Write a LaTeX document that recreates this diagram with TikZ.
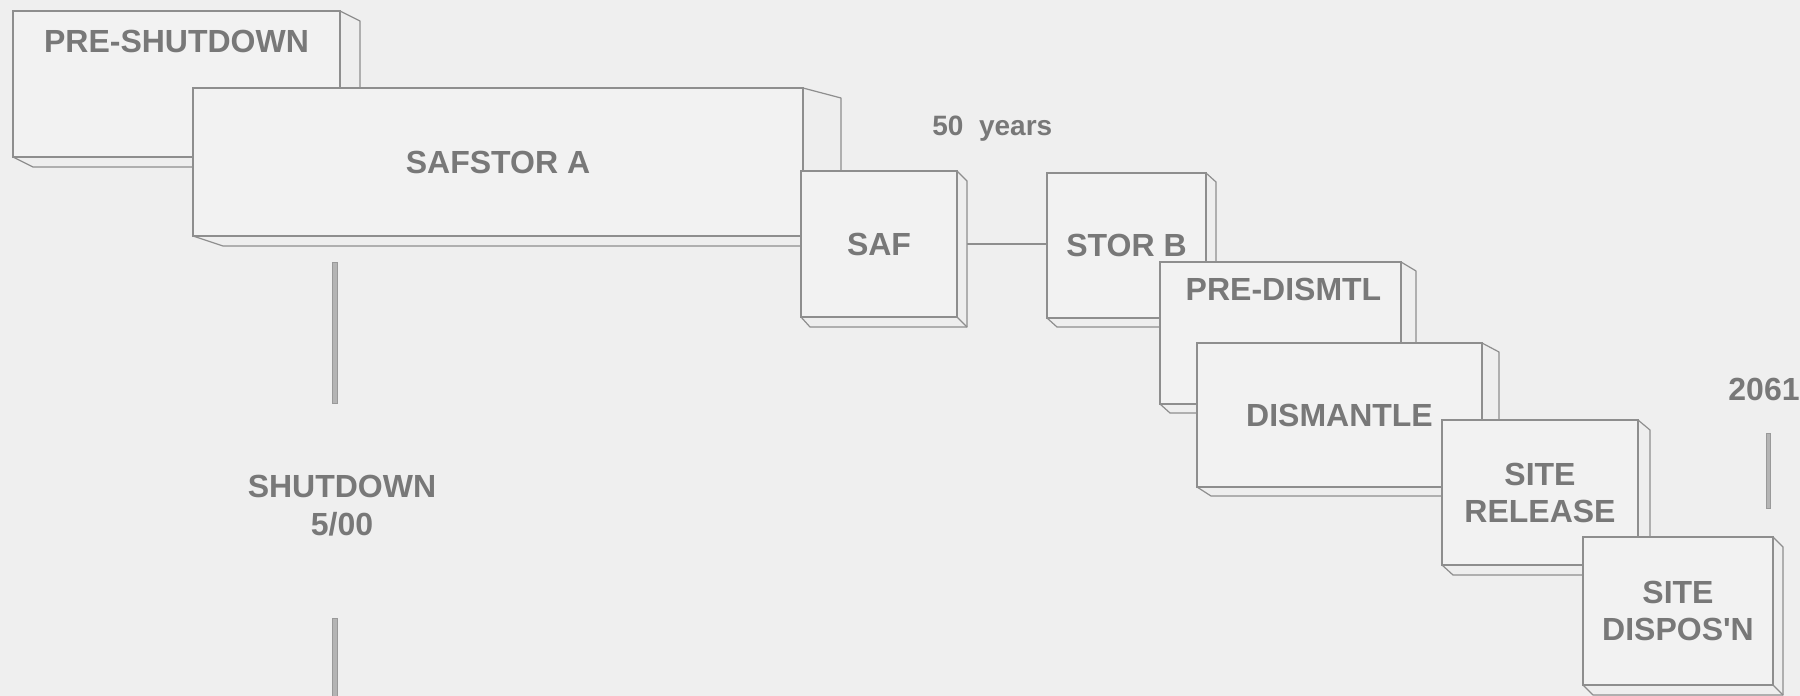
\documentclass[tikz,border=0pt]{standalone}
\usepackage{fontspec}
\setmainfont{Liberation Sans}
\usetikzlibrary{calc}
\definecolor{bgc}{HTML}{EFEFEF}
\definecolor{facec}{HTML}{F2F2F2}
\definecolor{sidec}{HTML}{EEEEEE}
\definecolor{linec}{HTML}{8E8E8E}
\definecolor{txtc}{HTML}{787878}
\definecolor{barfill}{HTML}{B4B4B4}
\pgfdeclarelayer{background}
\pgfsetlayers{background,main}
% #1 name, #2 x1, #3 y1, #4 x2, #5 y2, #6 right depth, #7 bottom depth, #8 left chamfer, #9 text
\newcommand\solidbox[9]{%
  \filldraw[boxside] (#4,#3) -- (#4+#6,#3+#7) -- (#4+#6,#5+#7) -- (#2+#8,#5+#7) -- (#2,#5) -- cycle;
  \draw[boxside] (#4,#5) -- (#4+#6,#5+#7);
  \node[boxface, minimum width={0.5pt*(#4-#2)}, minimum height={0.5pt*(#5-#3)}] (#1) at ({(#2+#4)/2},{(#3+#5)/2}) {#9};
}
\begin{document}
\begin{tikzpicture}[x=0.5pt,y=-0.5pt,
  boxside/.style={fill=sidec, draw=linec, line width=0.6pt, line join=round},
  boxface/.style={rectangle, fill=facec, draw=linec, line width=0.6pt, inner sep=0pt,
    text=txtc, align=center, font=\fontsize{16}{18.5}\selectfont\bfseries},
  lbl/.style={text=txtc, align=center, inner sep=0pt, font=\fontsize{16}{19}\selectfont\bfseries},
  conn/.style={draw=linec, line width=0.6pt},
  bar/.style={fill=barfill, draw=linec!90, line width=0.5pt}]
\useasboundingbox (0,0) rectangle (1800,696);
\begin{pgfonlayer}{background}
  \fill[bgc] (0,0) rectangle (1800,696);
\end{pgfonlayer}

\solidbox{preshut}{13}{11}{340}{157}{20}{10}{20}{}
\solidbox{safa}{193}{88}{803}{236}{38}{10}{30}{SAFSTOR A}
\solidbox{saf}{801}{171}{957}{317}{10}{10}{9}{SAF}
\solidbox{storb}{1047}{173}{1206}{318}{10}{9}{10}{STOR B}
\solidbox{predis}{1160}{262}{1401}{404}{15}{9}{10}{}
\solidbox{dism}{1197}{343}{1482}{487}{17}{9}{14}{DISMANTLE}
\solidbox{siterel}{1442}{420}{1638}{565}{12}{10}{11}{SITE\\RELEASE}
\solidbox{sitedis}{1583}{537}{1773}{685}{10}{10}{10}{SITE\\DISPOS\textquotesingle N}

\node[lbl] (preshuttxt) at ($(preshut.north)+(0,31)$) {PRE-SHUTDOWN};
\node[lbl] (predistxt) at ($(predis.north)+(3,28)$) {PRE-DISMTL};

\begin{pgfonlayer}{background}
  \draw[conn] (saf.east) -- (saf.east -| storb.west);
\end{pgfonlayer}

\node[lbl, font=\fontsize{14}{16}\selectfont\bfseries, anchor=base west] (yrs) at (932,135) {50\ \ years};
\node[lbl] (shut) at (342,506) {SHUTDOWN\\5/00};
\node[lbl] (endyr) at (1764,389) {2061};

\filldraw[bar] (332,262) rectangle (337,403);
\filldraw[bar] (332,618) rectangle (337,700);
\filldraw[bar] (1766,433) rectangle (1770,508);
\end{tikzpicture}
\end{document}
